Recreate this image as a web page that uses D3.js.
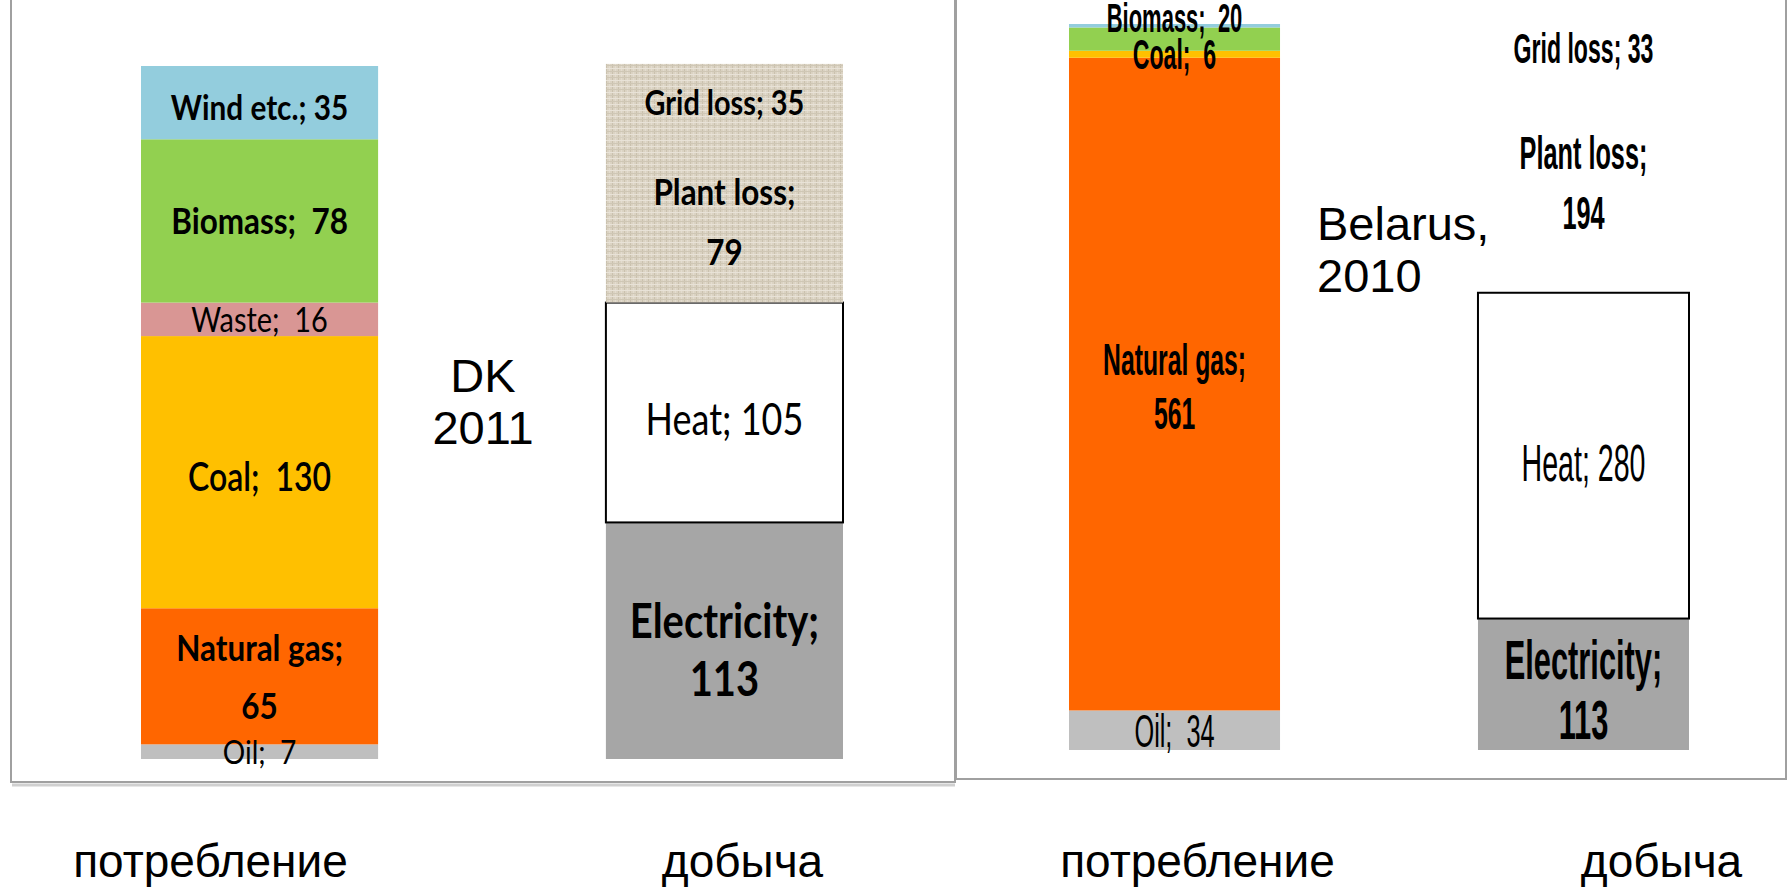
<!DOCTYPE html>
<html>
<head>
<meta charset="utf-8">
<style>
  body { margin: 0; background: #fff; }
  .frame { fill: none; stroke: #a0a0a0; stroke-width: 2; }
  .shadow { fill: none; stroke: #d0d0d0; stroke-width: 3; }
  .title { font-family: "Liberation Sans", Arial, sans-serif; font-size: 47px; fill: #000; }
  .axis text { font-family: "Liberation Sans", Arial, sans-serif; font-size: 46px; fill: #000; }
  .seg-label { white-space: pre; fill: #000; }
</style>
<script src="https://d3js.org/d3.v7.min.js"></script>
</head>
<body>
<svg id="chart" width="1789" height="887"></svg>
<script>
// ---- data ----
var dkCategories = ["Oil", "Natural gas", "Coal", "Waste", "Biomass", "Wind etc."];
var dkConsumption = [7, 65, 130, 16, 78, 35];
var dkOutputs = ["Electricity", "Heat", "Plant loss", "Grid loss"];
var dkProduction = [113, 105, 79, 35];

var byCategories = ["Oil", "Natural gas", "Coal", "Biomass", "Wind etc."];
var byConsumption = [34, 561, 6, 20, 3];
var byOutputs = ["Electricity", "Heat", "Plant loss", "Grid loss"];
var byProduction = [113, 280, 194, 33];

var columns = ["потребление", "добыча"];
var dkTitle = ["DK", "2011"];
var byTitle = ["Belarus,", "2010"];

// ---- styles ----
var fills = {
  "Oil": "#bfbfbf", "Natural gas": "#ff6600", "Coal": "#ffc000", "Waste": "#d99694",
  "Biomass": "#92d050", "Wind etc.": "#93cddd", "Electricity": "#a6a6a6", "Heat": "#ffffff"
};

// label look per segment: size, weight, separator, wrapped?, line gap, shift
var dkLabel = {
  "Oil": {size: 33, weight: 400, sep: ";  "},
  "Natural gas": {size: 37, weight: 700, wrap: true, gap: 58},
  "Coal": {size: 40, weight: 600, sep: ";  ", shift: 4, squeeze: 0.8},
  "Waste": {size: 34, weight: 400, sep: ";  "},
  "Biomass": {size: 37, weight: 700, sep: ";  "},
  "Wind etc.": {size: 35, weight: 700, shift: 5},
  "Electricity": {size: 47, weight: 700, wrap: true, gap: 58, shift: 9},
  "Heat": {size: 45, weight: 400, shift: 6, squeeze: 0.8},
  "Plant loss": {size: 37, weight: 700, wrap: true, gap: 60, shift: 2},
  "Grid loss": {size: 34, weight: 700, shift: 2}
};
var byLabel = {
  "Oil": {size: 46, weight: 400, sep: ";  "},
  "Natural gas": {size: 45, weight: 700, wrap: true, gap: 54, shift: 2},
  "Coal": {size: 42, weight: 700, sep: ";  "},
  "Biomass": {size: 40, weight: 700, sep: ";  ", shift: -22},
  "Wind etc.": {hide: true},
  "Electricity": {size: 56, weight: 700, wrap: true, gap: 60, shift: 5},
  "Heat": {size: 52, weight: 400, shift: 7},
  "Plant loss": {size: 46, weight: 700, wrap: true, gap: 60, shift: 3},
  "Grid loss": {size: 42, weight: 700}
};

var svg = d3.select("#chart");

// linen texture for the DK losses
var defs = svg.append("defs");
var linen = defs.append("pattern").attr("id", "linen")
  .attr("patternUnits", "userSpaceOnUse").attr("width", 6).attr("height", 6);
linen.append("rect").attr("width", 6).attr("height", 6).attr("fill", "#dbd3c3");
linen.append("rect").attr("width", 1).attr("height", 6).attr("fill", "#cac1ae");
linen.append("rect").attr("x", 3).attr("width", 1).attr("height", 6).attr("fill", "#e3dccf");
linen.append("rect").attr("y", 2).attr("width", 6).attr("height", 1).attr("fill", "#e8e2d7");
linen.append("rect").attr("y", 5).attr("width", 6).attr("height", 1).attr("fill", "#cfc7b5");

// frames
svg.append("path").attr("class", "shadow").attr("d", "M12,785 H955");
svg.append("path").attr("class", "frame").attr("d", "M11,0 V782 H955 V0");
svg.append("path").attr("class", "frame").attr("d", "M956,0 V779 H1786 V0");

function drawPanel(p) {
  var g = svg.append("g");
  var x = d3.scaleBand().domain(columns).range(p.xRange).paddingInner(p.pad).paddingOuter(0);
  var y = d3.scaleLinear().domain([0, d3.sum(p.consumption)]).range(p.yRange);

  var bars = [
    {col: columns[0], keys: p.categories, values: p.consumption},
    {col: columns[1], keys: p.outputs, values: p.production}
  ];

  bars.forEach(function(b) {
    var row = {};
    b.keys.forEach(function(k, i) { row[k] = b.values[i]; });
    var series = d3.stack().keys(b.keys)([row]);

    g.selectAll(null).data(series).enter().append("rect")
      .attr("x", x(b.col))
      .attr("width", x.bandwidth())
      .attr("y", function(s) { return y(s[0][1]); })
      .attr("height", function(s) { return y(s[0][0]) - y(s[0][1]); })
      .attr("fill", function(s) { return fills[s.key] || p.lossFill; })
      .attr("stroke", function(s) { return s.key === "Heat" ? "#000" : "none"; })
      .attr("stroke-width", 2);

    series.forEach(function(s) {
      var st = p.labels[s.key];
      if (!st || st.hide) return;
      var val = s[0].data[s.key];
      var lines = st.wrap ? [s.key + ";", String(val)] : [s.key + (st.sep || "; ") + val];
      var cx = x(b.col) + x.bandwidth() / 2;
      var cy = y((s[0][0] + s[0][1]) / 2) + (st.shift || 0);
      var lg = g.append("g").attr("transform", "translate(" + cx + "," + cy + ") scale(" + (st.squeeze || p.squeeze) + ",1)");
      var t = lg.append("text").attr("class", "seg-label")
        .attr("text-anchor", "middle")
        .style("font-family", p.font)
        .style("font-size", st.size + "px")
        .style("font-weight", st.weight);
      lines.forEach(function(line, i) {
        t.append("tspan").attr("x", 0)
          .attr("y", (i - (lines.length - 1) / 2) * (st.gap || 0) + 0.36 * st.size)
          .text(line);
      });
    });
  });

  // column captions under the panel
  var ax = d3.scalePoint().domain(columns).range(p.captionRange);
  var axis = svg.append("g").attr("class", "axis")
    .attr("transform", "translate(0,841)")
    .call(d3.axisBottom(ax).tickSize(0));
  axis.select(".domain").remove();
  axis.selectAll("text").attr("font-family", null).attr("font-size", null);

  // panel title
  var tt = svg.append("text").attr("class", "title")
    .attr("text-anchor", p.titleAnchor);
  p.title.forEach(function(line, i) {
    tt.append("tspan").attr("x", p.titlePos[0]).attr("y", p.titlePos[1] + i * 52).text(line);
  });
}

drawPanel({
  categories: dkCategories, consumption: dkConsumption,
  outputs: dkOutputs, production: dkProduction,
  xRange: [141, 843], pad: 0.49, yRange: [759, 66],
  lossFill: "url(#linen)", labels: dkLabel,
  font: "Lato, 'Open Sans', sans-serif", squeeze: 0.85,
  captionRange: [210, 742],
  title: dkTitle, titlePos: [483, 392], titleAnchor: "middle"
});

drawPanel({
  categories: byCategories, consumption: byConsumption,
  outputs: byOutputs, production: byProduction,
  xRange: [1069, 1689], pad: 0.484, yRange: [750, 24],
  lossFill: "none", labels: byLabel,
  font: "'Liberation Sans', Arial, sans-serif", squeeze: 0.55,
  captionRange: [1197, 1661],
  title: byTitle, titlePos: [1317, 240], titleAnchor: "start"
});
</script>
</body>
</html>
